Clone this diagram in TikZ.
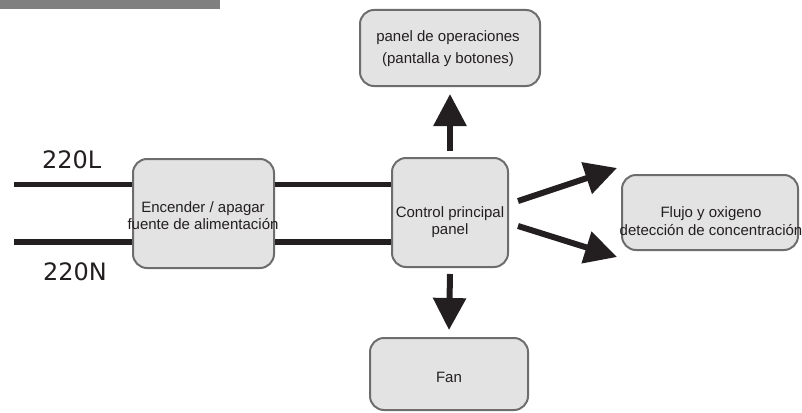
\documentclass[tikz,border=0pt]{standalone}
\usepackage{fontspec}
\setmainfont{Liberation Sans}
\newfontfamily\labfont{DejaVu Sans}
\usetikzlibrary{arrows.meta}
\definecolor{ink}{HTML}{231F20}
\definecolor{boxfill}{HTML}{E3E3E3}
\definecolor{boxline}{HTML}{6D6D6D}
\definecolor{bar}{HTML}{808080}
\tikzset{
  blk/.style={draw=boxline, fill=boxfill, line width=2pt, rounded corners=14pt, inner sep=0pt},
  txt/.style={text=ink, font=\fontsize{15}{17.5}\selectfont, align=center, inner sep=0pt},
  wire/.style={draw=ink, line width=5.5pt},
  arr/.style={draw=ink, line width=6pt, -{Triangle[width=32pt,length=32pt]}},
  lab/.style={text=ink, font=\labfont\fontsize{24}{28}\selectfont, inner sep=0pt, anchor=base west}
}
\begin{document}
\begin{tikzpicture}[x=1pt,y=-1pt]
\useasboundingbox (0,0) rectangle (802,412);
\fill[bar] (0,0) rectangle (220,9);

\node[blk, minimum width=141pt, minimum height=109pt] (power) at (203.5,213.5) {};
\node[blk, minimum width=116pt, minimum height=109pt] (ctrl) at (450,212.5) {};
\node[blk, minimum width=180pt, minimum height=76pt] (panel) at (450,48) {};
\node[blk, minimum width=176pt, minimum height=75pt] (flujo) at (710,212.5) {};
\node[blk, minimum width=158pt, minimum height=72pt] (fan) at (449,374) {};

\node[txt] (powert) at (203,215.5) {Encender / apagar\\fuente de alimentación};
\node[txt] (ctrlt) at (450,222) {Control principal\\panel};
\node[txt, font=\fontsize{15}{22}\selectfont] (panelt) at (448,49) {panel de operaciones\\(pantalla y botones)};
\node[txt] (flujot) at (711,221) {Flujo y oxigeno\\detección de concentración};
\node[txt] (fant) at (449,377) {Fan};

\coordinate (inL) at (14,184.5);
\coordinate (inN) at (14,242);
\draw[wire] (inL) -- (power.west |- inL);
\draw[wire] (inN) -- (power.west |- inN);
\draw[wire] (power.east |- inL) -- (ctrl.west |- inL);
\draw[wire] (power.east |- inN) -- (ctrl.west |- inN);

\node[lab] (lL) at (42,168) {220L};
\node[lab] (lN) at (43,280) {220N};

\draw[arr] ([yshift=6pt]ctrl.north) -- ([yshift=-7pt]panel.south);
\draw[arr] ([yshift=-6pt]ctrl.south) -- ([yshift=7pt]fan.north);
\draw[arr] ([shift={(9pt,11.5pt)}]ctrl.east) -- ([shift={(-4pt,44.5pt)}]flujo.west);
\draw[arr] ([shift={(9pt,-13.5pt)}]ctrl.east) -- ([shift={(-4pt,-44.5pt)}]flujo.west);
\end{tikzpicture}
\end{document}
